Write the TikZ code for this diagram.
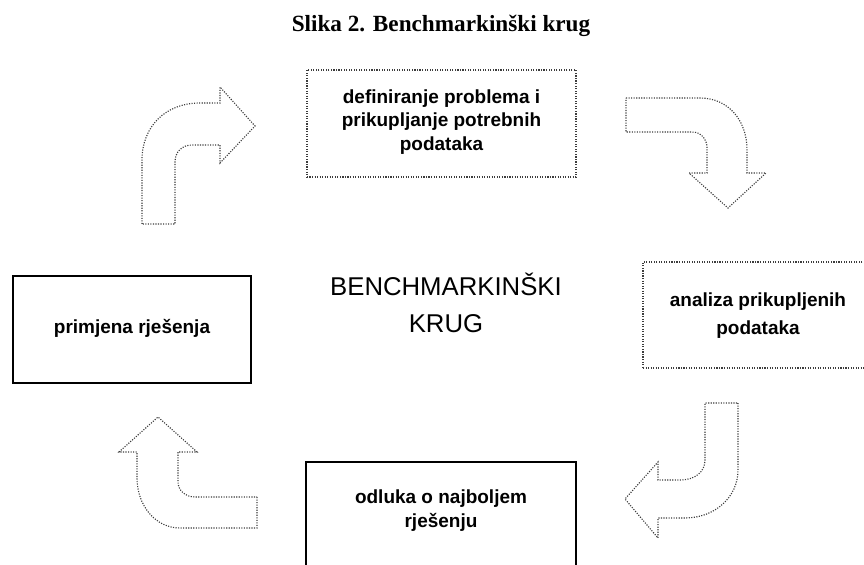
\documentclass[tikz,border=0pt]{standalone}
\usepackage{fontspec}
\setmainfont{Liberation Sans}
\newfontfamily\titlefont{Liberation Serif}
\usepackage{tikz}
\usetikzlibrary{positioning}
\definecolor{DotColor}{RGB}{60, 60, 60}

\begin{document}
\begin{tikzpicture}[x=0.025cm, y=-0.025cm,
  box/.style={draw, line width=1.1pt, align=center, font=\fontsize{13.5}{16.7}\selectfont\bfseries},
  dotbox/.style={draw=DotColor, densely dotted, line width=0.8pt, align=center, font=\fontsize{13.5}{16.7}\selectfont\bfseries},
  turn/.style={draw=DotColor, densely dotted, line width=0.8pt}]

\clip (0,0) rectangle (864,565);

\coordinate (T) at (441.5,123.5);
\coordinate (R) at (758,315);
\coordinate (B) at (441,515.5);
\coordinate (L) at (132,329.5);

\node[anchor=base, font=\titlefont\fontsize{16.5}{20}\selectfont\bfseries] (naslov) at (441,32) {Slika 2. Benchmarkinški krug};
\node[align=center, font=\fontsize{18.3}{26}\selectfont] (krug) at (446,303) {BENCHMARKINŠKI\\KRUG};

\node[dotbox, minimum width=6.725cm, minimum height=2.675cm, text depth=5pt] (definiranje) at (T) {definiranje problema i\\prikupljanje potrebnih\\podataka};
\node[dotbox, minimum width=5.75cm, minimum height=2.65cm, text depth=2.5pt, font=\fontsize{13.5}{20}\selectfont\bfseries] (analiza) at (R) {analiza prikupljenih\\podataka};
\node[box, minimum width=6.75cm, minimum height=2.675cm, text depth=9.5pt] (odluka) at (B) {odluka o najboljem\\rješenju};
\node[box, minimum width=5.95cm, minimum height=2.675cm, text depth=4.3pt] (primjena) at (L) {primjena rješenja};

% curved arrows between the steps
\draw[turn] (142,224) -- (142,160) .. controls (142,127) and (165,103) .. (200,103) -- (220,103) -- (220,87) -- (255,126)
  -- (220,163) -- (220,145) -- (192,145) .. controls (182,145) and (175,152) .. (175,162) -- (175,224) -- cycle;
\draw[turn] (626,98) -- (700,98) .. controls (728,98) and (747,120) .. (747,150) -- (747,173) -- (766,173) -- (728,208)
  -- (689,173) -- (707,173) -- (707,148) .. controls (707,139) and (701,132) .. (692,132) -- (626,132) -- cycle;
\draw[turn] (738,403) -- (738,470) .. controls (738,497) and (715,518) .. (685,518) -- (658,518) -- (658,538) -- (625,499)
  -- (658,462) -- (658,480) -- (680,480) .. controls (695,480) and (705,472) .. (705,460) -- (705,403) -- cycle;
\draw[turn] (257,497) -- (257,528) -- (180,528) .. controls (155,528) and (137,505) .. (137,478) -- (137,452) -- (119,452)
  -- (158,417) -- (197,452) -- (178,452) -- (178,482) .. controls (178,490) and (185,497) .. (195,497) -- cycle;

\end{tikzpicture}
\end{document}
